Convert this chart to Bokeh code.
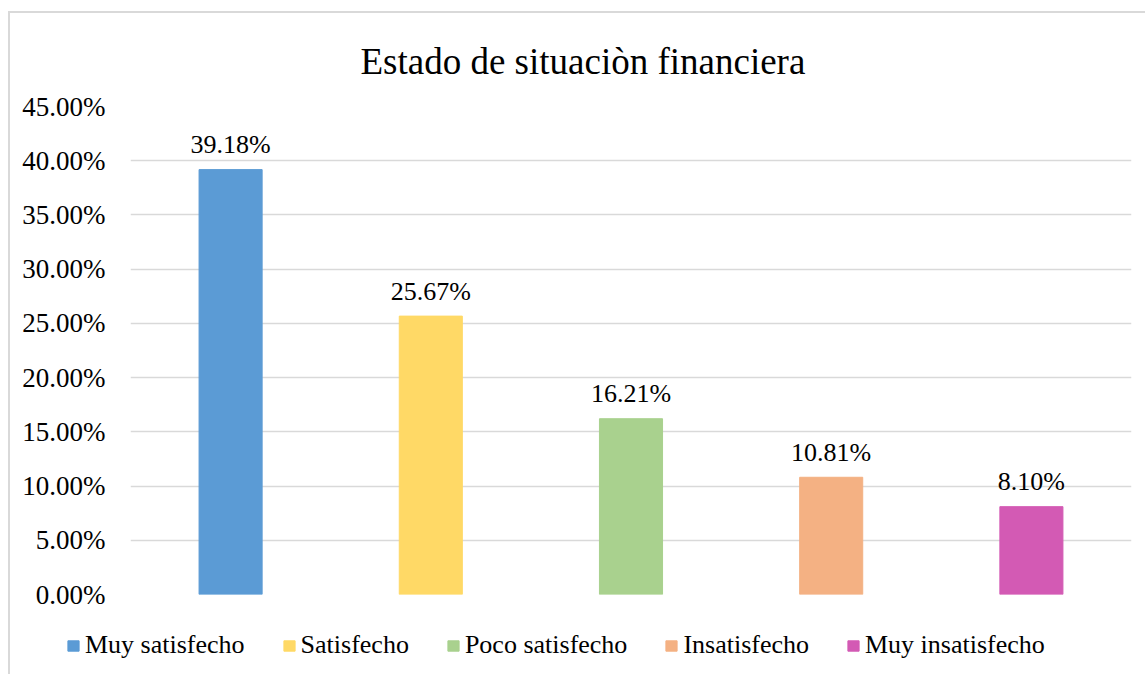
from bokeh.plotting import figure
from bokeh.models import ColumnDataSource, NumeralTickFormatter, FactorRange
from bokeh.layouts import column
from bokeh.core.properties import value
from bokeh.embed import file_html
from bokeh.resources import INLINE

categories = ["Muy satisfecho", "Satisfecho", "Poco satisfecho", "Insatisfecho", "Muy insatisfecho"]
values = [0.3918, 0.2567, 0.1621, 0.1081, 0.0810]
labels = ["39.18%", "25.67%", "16.21%", "10.81%", "8.10%"]
colors = ["#5B9BD5", "#FFD966", "#A9D18E", "#F4B183", "#D35AB4"]
y_ticks = [0, 0.05, 0.10, 0.15, 0.20, 0.25, 0.30, 0.35, 0.40, 0.45]

FONT = "Liberation Serif"

src = ColumnDataSource(dict(cat=categories, val=values, lab=labels, col=colors))

# ---- main chart ----
p = figure(frame_width=1001, frame_height=488, x_range=FactorRange(*categories), y_range=(0, 0.45),
           output_backend="svg", toolbar_location=None,
           min_border_left=120, min_border_right=4, min_border_top=0, min_border_bottom=16)
p.x_range.range_padding = 0

p.title.text = "Estado de situaciòn financiera"
p.title.align = "left"
p.title.offset = 230
p.title.text_font = FONT
p.title.text_font_size = "37px"
p.title.text_font_style = "normal"
p.title.text_color = "#000000"
p.title.standoff = 50

p.outline_line_color = None

p.vbar(x="cat", top="val", width=0.315, color="col", source=src)

p.text(x="cat", y="val", text="lab", source=src, text_align="center", text_baseline="alphabetic",
       y_offset=-25, text_font=value(FONT), text_font_size="26px", text_color="#000000")

p.xaxis.visible = False
p.xgrid.grid_line_color = None
p.ygrid.grid_line_color = "#d9d9d9"
p.ygrid.grid_line_width = 1.5
p.yaxis.ticker = y_ticks
p.yaxis.formatter = NumeralTickFormatter(format="0.00%")
p.yaxis.axis_line_color = None
p.yaxis.major_tick_line_color = None
p.yaxis.minor_tick_line_color = None
p.yaxis.major_label_standoff = 19
p.yaxis.major_label_text_font = FONT
p.yaxis.major_label_text_font_size = "27px"
p.yaxis.major_label_text_color = "#000000"

# ---- legend strip (bars kept out of view; only the legend shows) ----
p2 = figure(frame_width=1027, frame_height=64, x_range=FactorRange(*categories), y_range=(1, 2),
            output_backend="svg", toolbar_location=None,
            min_border_left=108, min_border_right=0, min_border_top=0, min_border_bottom=0)
p2.vbar(x="cat", top="val", width=0.315, color="col", source=src, legend_field="cat")
p2.axis.visible = False
p2.grid.visible = False
p2.outline_line_color = None

leg = p2.legend[0]
leg.orientation = "horizontal"
leg.location = "top_left"
leg.label_text_font = FONT
leg.label_text_font_size = "26px"
leg.label_text_color = "#000000"
leg.glyph_width = 14
leg.glyph_height = 13
leg.label_standoff = 5
leg.spacing = 37
leg.border_line_color = None
leg.background_fill_alpha = 0
leg.margin = 20
leg.padding = 0

layout = column(p, p2, spacing=0)
layout.styles = {"margin-left": "8px", "margin-top": "11px",
                 "border-left": "2px solid #d9d9d9", "border-top": "2px solid #d9d9d9"}

open("out.html", "w").write(file_html(layout, INLINE))
